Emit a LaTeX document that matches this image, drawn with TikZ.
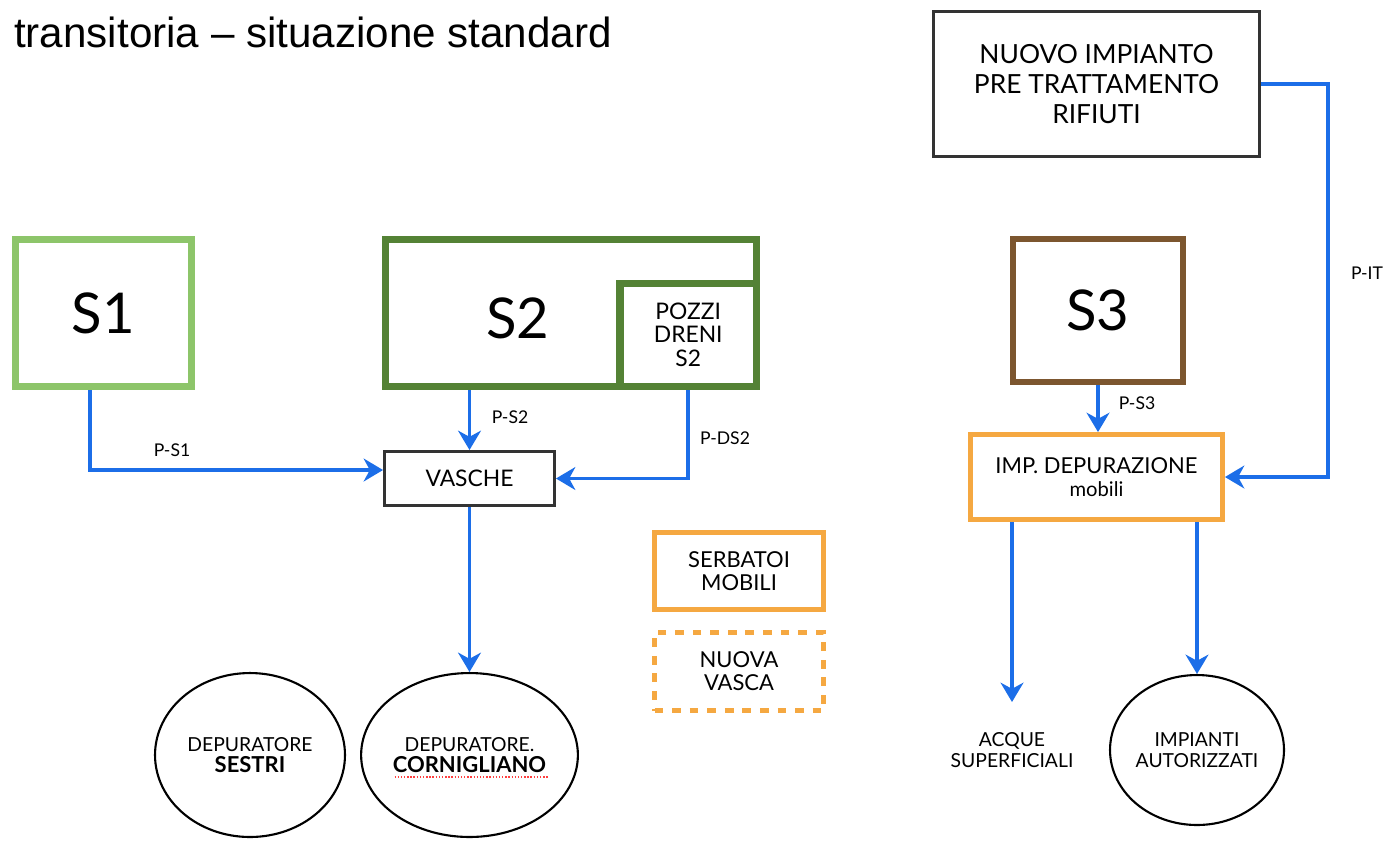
\documentclass[tikz,border=0pt]{standalone}
\usepackage{fontspec}
\setmainfont{Lato}
\newfontfamily\titlefont{Liberation Sans}
\usetikzlibrary{arrows.meta, shapes.geometric, calc}
\definecolor{siteone}{RGB}{141,197,106}
\definecolor{sitetwo}{RGB}{84,130,53}
\definecolor{sitethree}{RGB}{124,86,47}
\definecolor{mobile}{RGB}{245,168,65}
\definecolor{pipe}{RGB}{28,110,232}
\definecolor{frame}{RGB}{51,51,51}
\tikzset{
    my-site/.style={
        draw, line width=4pt, minimum width=3.52cm, minimum height=2.94cm,
        inner sep=0pt, font=\fontsize{32}{36}\selectfont
    },
    my-box/.style={
        draw=frame, line width=1.7pt, align=center, inner sep=0pt
    },
    my-mobile/.style={
        draw=mobile, line width=2.8pt, align=center, inner sep=0pt,
        minimum width=3.38cm, font=\fontsize{12.5}{13}\selectfont
    },
    my-plant/.style={
        ellipse, draw=black, line width=1.2pt, align=center, inner sep=0pt,
        font=\fontsize{11}{12}\selectfont
    },
    my-pipe/.style={
        draw=pipe, line width=2.2pt, -{Stealth[length=11pt, width=13pt, inset=3.5pt]}
    },
    my-label/.style={
        font=\fontsize{10}{12}\selectfont
    },
}
\begin{document}
\begin{tikzpicture}[x=0.02cm, y=-0.02cm]
        \useasboundingbox (0,0) rectangle (1388,840);

        % TITLE
        \node[anchor=base west, font=\titlefont\fontsize{24}{28}\selectfont] (TITLE) at (8,47) {transitoria \textendash\ situazione standard};

        % SITES
        \node[my-site, draw=siteone]                       (S1)    at (103.5,313)           {S1};
        \node[my-site, draw=sitetwo, minimum width=7.42cm] (S2)    at ($(S1) + (467.5,0)$)  {};
        \node[font=\fontsize{32}{36}\selectfont]           (S2TXT) at ($(S2) + (-53,5)$)    {S2};
        \node[my-site, draw=sitetwo, minimum width=2.73cm, minimum height=2.07cm,
              anchor=south east, align=center, font=\fontsize{13}{13.5}\selectfont]
                                                           (POZZI) at (S2.south east)       {POZZI\\DRENI\\S2};
        \node[my-site, draw=sitethree, line width=3.4pt, minimum width=3.4cm, minimum height=2.86cm]
                                                           (S3)    at ($(S2) + (527,-2.5)$) {S3};

        % PLANTS AND TANKS
        \node[my-box, minimum width=6.52cm, minimum height=2.9cm, font=\fontsize{15}{17}\selectfont]
              (NUOVO)  at ($(S3) + (-1.5,-226.5)$) {NUOVO IMPIANTO\\PRE TRATTAMENTO\\RIFIUTI};
        \node[my-mobile, minimum width=5.04cm, minimum height=1.7cm]
              (IMP)    at ($(S3) + (-1.5,166.5)$)  {IMP. DEPURAZIONE\\{\fontsize{11.5}{13}\selectfont mobili}};
        \node[my-box, minimum width=3.4cm, minimum height=1.08cm, font=\fontsize{13}{15}\selectfont]
              (VASCHE) at ($(S1) + (366,165.5)$)   {VASCHE};
        \node[my-mobile, minimum height=1.54cm]
              (SERB)   at ($(VASCHE) + (269.5,92.5)$) {SERBATOI\\MOBILI};
        \node[my-mobile, minimum height=1.56cm, dash pattern=on 5pt off 5pt]
              (NVASCA) at ($(SERB) + (0,100.5)$)   {NUOVA\\VASCA};

        % DESTINATIONS
        \node[my-plant, minimum width=3.8cm, minimum height=3.28cm]
              (SESTRI)   at (250,755)               {DEPURATORE\\{\fontsize{12.5}{13}\selectfont\bfseries SESTRI}};
        \node[my-plant, minimum width=3.5cm, minimum height=3.28cm]
              (CORN)     at ($(SESTRI) + (219.5,0)$) {DEPURATORE.\\{\fontsize{12.5}{13}\selectfont\bfseries CORNIGLIANO}};
        \node[my-plant, minimum width=3.48cm, minimum height=3cm]
              (IMPIANTI) at ($(IMP) + (100.5,273)$)  {IMPIANTI\\AUTORIZZATI};
        \node[align=center, font=\fontsize{11}{12}\selectfont]
              (ACQUE)    at ($(IMP) + (-84.5,273)$)  {ACQUE\\SUPERFICIALI};
        \coordinate (ACQUEIN) at ($(ACQUE) + (0,-48)$);
        \draw[red!75, densely dotted, line width=0.8pt] ($(CORN) + (-75,22)$) -- ($(CORN) + (78,22)$);

        % PIPES
        \draw[my-pipe] ($(S1.south) + (-13.5,0)$) |- ($(VASCHE.west) + (0,-8.5)$);
        \draw[my-pipe] (S2.south -| VASCHE.north) -- (VASCHE.north);
        \draw[my-pipe] (POZZI.south) |- (VASCHE.east);
        \draw[my-pipe] (VASCHE.south) -- (CORN.north);
        \draw[my-pipe] (S3.south) -- (S3.south |- IMP.north);
        \draw[my-pipe] (NUOVO.east) -- ++(67,0) |- (IMP.east);
        \draw[my-pipe] (IMP.south -| ACQUE) -- (ACQUEIN);
        \draw[my-pipe] (IMP.south -| IMPIANTI.north) -- (IMPIANTI.north);

        % PIPE LABELS
        \node[my-label] (PS1)  at ($(S1) + (68.5,137)$)     {P-S1};
        \node[my-label] (PS2)  at ($(VASCHE) + (40.5,-61.5)$) {P-S2};
        \node[my-label] (PDS2) at ($(VASCHE) + (255.5,-40.5)$) {P-DS2};
        \node[my-label] (PS3)  at ($(S3) + (39,92.5)$)      {P-S3};
        \node[my-label] (PIT)  at ($(NUOVO) + (270.5,189)$) {P-IT};

\end{tikzpicture}
\end{document}
